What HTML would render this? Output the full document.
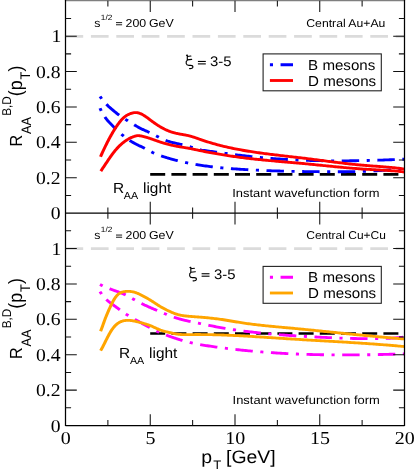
<!DOCTYPE html>
<html><head><meta charset="utf-8"><title>R_AA B,D mesons</title>
<style>html,body{margin:0;padding:0;background:#fff;}svg{display:block;will-change:transform;}text{text-rendering:geometricPrecision;}</style>
</head><body>
<svg width="415" height="471" viewBox="0 0 415 471">
<defs><filter id="soft" x="-5%" y="-5%" width="110%" height="110%"><feGaussianBlur stdDeviation="0.32"/></filter></defs>
<rect x="0" y="0" width="415" height="471" fill="#ffffff"/>
<line x1="65.5" y1="36.35" x2="404.5" y2="36.35" stroke="#dbdbdb" stroke-width="2.85" stroke-dasharray="17.7 7.7"/>
<line x1="65.5" y1="248.60" x2="404.5" y2="248.60" stroke="#dbdbdb" stroke-width="2.85" stroke-dasharray="17.7 7.7"/>
<line x1="150.2" y1="174.3" x2="404.5" y2="174.3" stroke="#000" stroke-width="2.65" stroke-dasharray="15.0 6.2"/>
<line x1="150.2" y1="333.5" x2="404.5" y2="333.5" stroke="#000" stroke-width="2.65" stroke-dasharray="15.0 6.2"/>
<g fill="none" stroke-width="2.85" stroke-linejoin="round" transform="scale(1.08 1)">
<path d="M92.59 96.40 L93.04 97.11 L93.48 97.80 L93.92 98.47 L94.36 99.12 L94.81 99.74 L95.25 100.35 L95.69 100.94 L96.14 101.51 L96.58 102.06 L97.02 102.60 L97.47 103.12 L97.91 103.63 L98.35 104.12 L98.79 104.61 L99.24 105.08 L99.68 105.54 L100.12 105.99 L100.57 106.43 L101.01 106.87 L101.45 107.29 L101.90 107.71 L102.34 108.13 L102.78 108.54 L103.23 108.95 L103.67 109.35 L104.11 109.76 L104.55 110.16 L105.00 110.56 L105.44 110.97 L105.88 111.37 L106.33 111.76 L106.77 112.16 L107.21 112.55 L107.66 112.94 L108.10 113.33 L108.54 113.71 L108.98 114.08 L109.43 114.45 L109.87 114.81 L110.31 115.16 L110.76 115.51 L111.20 115.85 L111.64 116.19 L112.09 116.52 L112.53 116.84 L112.97 117.16 L113.41 117.48 L113.86 117.79 L114.30 118.10 L114.74 118.40 L115.19 118.70 L115.63 119.01 L116.07 119.31 L116.52 119.61 L116.96 119.91 L117.40 120.20 L117.85 120.50 L118.29 120.80 L118.73 121.10 L119.17 121.41 L119.62 121.71 L120.06 122.01 L120.50 122.31 L120.95 122.60 L121.39 122.90 L121.83 123.20 L122.28 123.50 L122.72 123.79 L123.16 124.08 L123.60 124.38 L124.05 124.66 L124.49 124.95 L124.93 125.24 L125.38 125.52 L125.82 125.80 L126.26 126.08 L126.71 126.36 L127.15 126.63 L127.59 126.90 L128.03 127.16 L128.48 127.43 L128.92 127.69 L129.36 127.94 L129.81 128.19 L130.25 128.44 L130.69 128.68 L131.14 128.92 L131.58 129.15 L132.02 129.38 L132.47 129.61 L132.91 129.83 L133.35 130.05 L133.79 130.26 L134.24 130.48 L134.68 130.69 L135.12 130.90 L135.57 131.11 L136.01 131.33 L136.45 131.54 L136.90 131.75 L137.34 131.97 L137.78 132.19 L138.22 132.41 L138.67 132.63 L139.11 132.86 L139.55 133.10 L140.00 133.33 L140.44 133.57 L140.88 133.81 L141.33 134.05 L141.77 134.29 L142.21 134.54 L142.65 134.79 L143.10 135.03 L143.54 135.28 L143.98 135.53 L144.43 135.78 L144.87 136.03 L145.31 136.28 L145.76 136.52 L146.20 136.77 L146.64 137.01 L147.08 137.26 L147.53 137.50 L147.97 137.73 L148.41 137.97 L148.86 138.20 L149.30 138.43 L149.74 138.66 L150.19 138.88 L150.63 139.10 L151.07 139.31 L151.52 139.52 L151.96 139.73 L152.40 139.93 L152.84 140.12 L153.29 140.31 L153.73 140.49 L154.17 140.67 L154.62 140.84 L155.06 141.00 L155.50 141.16 L155.95 141.31 L156.39 141.46 L156.83 141.60 L157.27 141.74 L157.72 141.88 L158.16 142.01 L158.60 142.14 L159.05 142.26 L159.49 142.39 L159.93 142.51 L160.38 142.63 L160.82 142.74 L161.26 142.86 L161.70 142.97 L162.15 143.08 L162.59 143.19 L163.03 143.30 L163.48 143.41 L163.92 143.52 L164.36 143.63 L164.81 143.74 L165.25 143.84 L165.69 143.95 L166.14 144.06 L166.58 144.17 L167.02 144.27 L167.46 144.38 L167.91 144.49 L168.35 144.60 L168.79 144.71 L169.24 144.82 L169.68 144.94 L170.12 145.05 L170.57 145.17 L171.01 145.29 L171.45 145.40 L171.89 145.53 L172.34 145.65 L172.78 145.77 L173.22 145.90 L173.67 146.03 L174.11 146.16 L174.55 146.29 L175.00 146.43 L175.44 146.56 L175.88 146.70 L176.32 146.85 L176.77 146.99 L177.21 147.14 L177.65 147.29 L178.10 147.45 L178.54 147.60 L178.98 147.76 L179.43 147.91 L179.87 148.07 L180.31 148.22 L180.75 148.37 L181.20 148.53 L181.64 148.68 L182.08 148.82 L182.53 148.97 L182.97 149.11 L183.41 149.24 L183.86 149.37 L184.30 149.50 L184.74 149.61 L185.19 149.73 L186.55 150.04 L187.91 150.30 L189.27 150.53 L190.63 150.74 L192.00 150.93 L193.36 151.12 L194.72 151.32 L196.08 151.51 L197.45 151.71 L198.81 151.90 L200.17 152.10 L201.53 152.30 L202.89 152.50 L204.26 152.70 L205.62 152.90 L206.98 153.10 L208.34 153.30 L209.71 153.50 L211.07 153.70 L212.43 153.90 L213.79 154.10 L215.15 154.29 L216.52 154.49 L217.88 154.68 L219.24 154.87 L220.60 155.05 L221.97 155.24 L223.33 155.42 L224.69 155.60 L226.05 155.78 L227.41 155.95 L228.78 156.12 L230.14 156.28 L231.50 156.45 L232.86 156.60 L234.23 156.76 L235.59 156.91 L236.95 157.06 L238.31 157.21 L239.67 157.35 L241.04 157.49 L242.40 157.62 L243.76 157.76 L245.12 157.89 L246.49 158.01 L247.85 158.14 L249.21 158.26 L250.57 158.37 L251.94 158.49 L253.30 158.60 L254.66 158.71 L256.02 158.81 L257.38 158.92 L258.75 159.02 L260.11 159.11 L261.47 159.21 L262.83 159.30 L264.20 159.38 L265.56 159.47 L266.92 159.55 L268.28 159.63 L269.64 159.71 L271.01 159.78 L272.37 159.85 L273.73 159.92 L275.09 159.99 L276.46 160.05 L277.82 160.11 L279.18 160.17 L280.54 160.23 L281.90 160.28 L283.27 160.33 L284.63 160.38 L285.99 160.42 L287.35 160.47 L288.72 160.51 L290.08 160.55 L291.44 160.58 L292.80 160.62 L294.16 160.65 L295.53 160.68 L296.89 160.70 L298.25 160.73 L299.61 160.75 L300.98 160.77 L302.34 160.79 L303.70 160.80 L305.06 160.82 L306.42 160.83 L307.79 160.84 L309.15 160.84 L310.51 160.85 L311.87 160.85 L313.24 160.85 L314.60 160.85 L315.96 160.85 L317.32 160.84 L318.69 160.84 L320.05 160.83 L321.41 160.82 L322.77 160.81 L324.13 160.79 L325.50 160.77 L326.86 160.76 L328.22 160.74 L329.58 160.72 L330.95 160.69 L332.31 160.67 L333.67 160.64 L335.03 160.61 L336.39 160.58 L337.76 160.55 L339.12 160.52 L340.48 160.48 L341.84 160.45 L343.21 160.41 L344.57 160.37 L345.93 160.33 L347.29 160.29 L348.65 160.24 L350.02 160.20 L351.38 160.15 L352.74 160.10 L354.10 160.05 L355.47 160.00 L356.83 159.95 L358.19 159.90 L359.55 159.85 L360.91 159.79 L362.28 159.73 L363.64 159.68 L365.00 159.62 L366.36 159.56 L367.73 159.49 L369.09 159.43 L370.45 159.37 L371.81 159.30 L373.17 159.24 L374.54 159.17" stroke="#0000ff" stroke-dasharray="2.87 7.0 16.15 7.0"/>
<path d="M92.59 108.19 L93.04 109.25 L93.48 110.25 L93.92 111.21 L94.36 112.13 L94.81 113.01 L95.25 113.84 L95.69 114.64 L96.14 115.41 L96.58 116.14 L97.02 116.84 L97.47 117.51 L97.91 118.16 L98.35 118.78 L98.79 119.38 L99.24 119.96 L99.68 120.53 L100.12 121.07 L100.57 121.61 L101.01 122.13 L101.45 122.65 L101.90 123.15 L102.34 123.66 L102.78 124.16 L103.23 124.66 L103.67 125.15 L104.11 125.65 L104.55 126.14 L105.00 126.62 L105.44 127.11 L105.88 127.59 L106.33 128.06 L106.77 128.54 L107.21 129.01 L107.66 129.47 L108.10 129.93 L108.54 130.39 L108.98 130.84 L109.43 131.29 L109.87 131.74 L110.31 132.17 L110.76 132.61 L111.20 133.04 L111.64 133.46 L112.09 133.88 L112.53 134.29 L112.97 134.70 L113.41 135.10 L113.86 135.50 L114.30 135.89 L114.74 136.27 L115.19 136.65 L115.63 137.02 L116.07 137.38 L116.52 137.74 L116.96 138.10 L117.40 138.45 L117.85 138.79 L118.29 139.13 L118.73 139.46 L119.17 139.79 L119.62 140.11 L120.06 140.42 L120.50 140.73 L120.95 141.04 L121.39 141.34 L121.83 141.63 L122.28 141.92 L122.72 142.21 L123.16 142.49 L123.60 142.76 L124.05 143.03 L124.49 143.30 L124.93 143.56 L125.38 143.81 L125.82 144.07 L126.26 144.31 L126.71 144.56 L127.15 144.79 L127.59 145.03 L128.03 145.26 L128.48 145.48 L128.92 145.70 L129.36 145.93 L129.81 146.14 L130.25 146.36 L130.69 146.58 L131.14 146.80 L131.58 147.02 L132.02 147.24 L132.47 147.46 L132.91 147.69 L133.35 147.92 L133.79 148.15 L134.24 148.39 L134.68 148.64 L135.12 148.88 L135.57 149.14 L136.01 149.39 L136.45 149.65 L136.90 149.91 L137.34 150.17 L137.78 150.44 L138.22 150.70 L138.67 150.96 L139.11 151.22 L139.55 151.48 L140.00 151.74 L140.44 151.99 L140.88 152.23 L141.33 152.48 L141.77 152.71 L142.21 152.94 L142.65 153.17 L143.10 153.38 L143.54 153.59 L143.98 153.80 L144.43 154.00 L144.87 154.19 L145.31 154.38 L145.76 154.57 L146.20 154.75 L146.64 154.93 L147.08 155.10 L147.53 155.27 L147.97 155.44 L148.41 155.61 L148.86 155.77 L149.30 155.93 L149.74 156.09 L150.19 156.25 L150.63 156.41 L151.07 156.56 L151.52 156.72 L151.96 156.87 L152.40 157.02 L152.84 157.17 L153.29 157.32 L153.73 157.47 L154.17 157.62 L154.62 157.76 L155.06 157.91 L155.50 158.05 L155.95 158.19 L156.39 158.33 L156.83 158.47 L157.27 158.61 L157.72 158.75 L158.16 158.88 L158.60 159.02 L159.05 159.15 L159.49 159.28 L159.93 159.41 L160.38 159.54 L160.82 159.67 L161.26 159.80 L161.70 159.93 L162.15 160.05 L162.59 160.18 L163.03 160.30 L163.48 160.42 L163.92 160.54 L164.36 160.66 L164.81 160.78 L165.25 160.90 L165.69 161.01 L166.14 161.13 L166.58 161.24 L167.02 161.36 L167.46 161.47 L167.91 161.58 L168.35 161.69 L168.79 161.80 L169.24 161.91 L169.68 162.01 L170.12 162.12 L170.57 162.22 L171.01 162.33 L171.45 162.43 L171.89 162.53 L172.34 162.63 L172.78 162.73 L173.22 162.83 L173.67 162.93 L174.11 163.03 L174.55 163.12 L175.00 163.22 L175.44 163.31 L175.88 163.40 L176.32 163.50 L176.77 163.59 L177.21 163.68 L177.65 163.77 L178.10 163.85 L178.54 163.94 L178.98 164.03 L179.43 164.11 L179.87 164.20 L180.31 164.28 L180.75 164.37 L181.20 164.45 L181.64 164.53 L182.08 164.61 L182.53 164.69 L182.97 164.77 L183.41 164.85 L183.86 164.93 L184.30 165.00 L184.74 165.08 L185.19 165.15 L186.55 165.38 L187.91 165.60 L189.27 165.81 L190.63 166.01 L192.00 166.21 L193.36 166.40 L194.72 166.58 L196.08 166.76 L197.45 166.93 L198.81 167.10 L200.17 167.26 L201.53 167.41 L202.89 167.56 L204.26 167.71 L205.62 167.85 L206.98 167.98 L208.34 168.11 L209.71 168.24 L211.07 168.36 L212.43 168.48 L213.79 168.60 L215.15 168.71 L216.52 168.82 L217.88 168.92 L219.24 169.02 L220.60 169.12 L221.97 169.22 L223.33 169.31 L224.69 169.41 L226.05 169.50 L227.41 169.58 L228.78 169.67 L230.14 169.75 L231.50 169.83 L232.86 169.91 L234.23 169.99 L235.59 170.06 L236.95 170.13 L238.31 170.20 L239.67 170.27 L241.04 170.34 L242.40 170.40 L243.76 170.47 L245.12 170.53 L246.49 170.59 L247.85 170.64 L249.21 170.70 L250.57 170.75 L251.94 170.80 L253.30 170.85 L254.66 170.90 L256.02 170.95 L257.38 170.99 L258.75 171.04 L260.11 171.08 L261.47 171.12 L262.83 171.16 L264.20 171.19 L265.56 171.23 L266.92 171.27 L268.28 171.30 L269.64 171.33 L271.01 171.36 L272.37 171.39 L273.73 171.42 L275.09 171.44 L276.46 171.47 L277.82 171.49 L279.18 171.52 L280.54 171.54 L281.90 171.56 L283.27 171.58 L284.63 171.60 L285.99 171.62 L287.35 171.63 L288.72 171.65 L290.08 171.66 L291.44 171.68 L292.80 171.69 L294.16 171.70 L295.53 171.72 L296.89 171.73 L298.25 171.74 L299.61 171.75 L300.98 171.75 L302.34 171.76 L303.70 171.77 L305.06 171.77 L306.42 171.77 L307.79 171.78 L309.15 171.78 L310.51 171.78 L311.87 171.77 L313.24 171.77 L314.60 171.76 L315.96 171.75 L317.32 171.74 L318.69 171.73 L320.05 171.72 L321.41 171.70 L322.77 171.68 L324.13 171.66 L325.50 171.63 L326.86 171.61 L328.22 171.58 L329.58 171.55 L330.95 171.51 L332.31 171.47 L333.67 171.43 L335.03 171.39 L336.39 171.34 L337.76 171.29 L339.12 171.24 L340.48 171.18 L341.84 171.12 L343.21 171.05 L344.57 170.99 L345.93 170.91 L347.29 170.84 L348.65 170.76 L350.02 170.68 L351.38 170.59 L352.74 170.50 L354.10 170.40 L355.47 170.30 L356.83 170.20 L358.19 170.09 L359.55 169.97 L360.91 169.85 L362.28 169.73 L363.64 169.60 L365.00 169.47 L366.36 169.33 L367.73 169.19 L369.09 169.04 L370.45 168.89 L371.81 168.73 L373.17 168.56 L374.54 168.39" stroke="#0000ff" stroke-dasharray="2.87 7.0 16.15 7.0"/>
<path d="M93.06 156.80 L93.50 155.72 L93.94 154.65 L94.38 153.59 L94.82 152.54 L95.26 151.50 L95.70 150.48 L96.14 149.46 L96.58 148.46 L97.02 147.46 L97.46 146.48 L97.90 145.50 L98.35 144.54 L98.79 143.59 L99.23 142.65 L99.67 141.72 L100.11 140.80 L100.55 139.89 L100.99 138.99 L101.43 138.10 L101.87 137.23 L102.31 136.36 L102.75 135.51 L103.19 134.66 L103.64 133.83 L104.08 133.00 L104.52 132.19 L104.96 131.39 L105.40 130.60 L105.84 129.82 L106.28 129.06 L106.72 128.30 L107.16 127.56 L107.60 126.84 L108.04 126.13 L108.48 125.43 L108.92 124.75 L109.37 124.09 L109.81 123.44 L110.25 122.81 L110.69 122.20 L111.13 121.60 L111.57 121.03 L112.01 120.47 L112.45 119.93 L112.89 119.41 L113.33 118.91 L113.77 118.43 L114.21 117.98 L114.66 117.54 L115.10 117.13 L115.54 116.74 L115.98 116.38 L116.42 116.03 L116.86 115.71 L117.30 115.41 L117.74 115.13 L118.18 114.87 L118.62 114.62 L119.06 114.39 L119.50 114.18 L119.95 113.98 L120.39 113.79 L120.83 113.61 L121.27 113.44 L121.71 113.29 L122.15 113.14 L122.59 113.01 L123.03 112.89 L123.47 112.79 L123.91 112.71 L124.35 112.64 L124.79 112.59 L125.23 112.56 L125.68 112.56 L126.12 112.57 L126.56 112.61 L127.00 112.68 L127.44 112.76 L127.88 112.86 L128.32 112.99 L128.76 113.13 L129.20 113.29 L129.64 113.47 L130.08 113.66 L130.52 113.87 L130.97 114.09 L131.41 114.33 L131.85 114.58 L132.29 114.85 L132.73 115.12 L133.17 115.41 L133.61 115.70 L134.05 116.01 L134.49 116.32 L134.93 116.65 L135.37 116.97 L135.81 117.31 L136.26 117.65 L136.70 117.99 L137.14 118.34 L137.58 118.70 L138.02 119.05 L138.46 119.41 L138.90 119.76 L139.34 120.12 L139.78 120.48 L140.22 120.83 L140.66 121.19 L141.10 121.54 L141.54 121.88 L141.99 122.23 L142.43 122.57 L142.87 122.91 L143.31 123.25 L143.75 123.58 L144.19 123.90 L144.63 124.23 L145.07 124.55 L145.51 124.86 L145.95 125.18 L146.39 125.48 L146.83 125.78 L147.28 126.08 L147.72 126.37 L148.16 126.66 L148.60 126.94 L149.04 127.22 L149.48 127.49 L149.92 127.76 L150.36 128.02 L150.80 128.28 L151.24 128.53 L151.68 128.78 L152.12 129.02 L152.57 129.25 L153.01 129.48 L153.45 129.71 L153.89 129.93 L154.33 130.14 L154.77 130.35 L155.21 130.56 L155.65 130.76 L156.09 130.95 L156.53 131.14 L156.97 131.32 L157.41 131.50 L157.85 131.67 L158.30 131.83 L158.74 132.00 L159.18 132.15 L159.62 132.30 L160.06 132.44 L160.50 132.58 L160.94 132.71 L161.38 132.84 L161.82 132.96 L162.26 133.08 L162.70 133.20 L163.14 133.30 L163.59 133.41 L164.03 133.51 L164.47 133.61 L164.91 133.71 L165.35 133.80 L165.79 133.89 L166.23 133.98 L166.67 134.06 L167.11 134.15 L167.55 134.24 L167.99 134.32 L168.43 134.40 L168.88 134.49 L169.32 134.57 L169.76 134.65 L170.20 134.74 L170.64 134.82 L171.08 134.91 L171.52 135.00 L171.96 135.09 L172.40 135.19 L172.84 135.28 L173.28 135.38 L173.72 135.48 L174.16 135.59 L174.61 135.70 L175.05 135.81 L175.49 135.93 L175.93 136.06 L176.37 136.18 L176.81 136.32 L177.25 136.46 L177.69 136.60 L178.13 136.74 L178.57 136.89 L179.01 137.05 L179.45 137.20 L179.90 137.36 L180.34 137.52 L180.78 137.68 L181.22 137.85 L181.66 138.02 L182.10 138.18 L182.54 138.35 L182.98 138.52 L183.42 138.69 L183.86 138.86 L184.30 139.03 L184.74 139.20 L185.19 139.36 L186.55 139.87 L187.91 140.37 L189.27 140.86 L190.63 141.34 L192.00 141.80 L193.36 142.26 L194.72 142.70 L196.08 143.14 L197.45 143.56 L198.81 143.97 L200.17 144.38 L201.53 144.77 L202.89 145.16 L204.26 145.54 L205.62 145.90 L206.98 146.26 L208.34 146.61 L209.71 146.96 L211.07 147.29 L212.43 147.62 L213.79 147.94 L215.15 148.25 L216.52 148.55 L217.88 148.85 L219.24 149.14 L220.60 149.42 L221.97 149.70 L223.33 149.97 L224.69 150.23 L226.05 150.49 L227.41 150.74 L228.78 150.98 L230.14 151.23 L231.50 151.46 L232.86 151.69 L234.23 151.92 L235.59 152.14 L236.95 152.36 L238.31 152.57 L239.67 152.78 L241.04 152.98 L242.40 153.18 L243.76 153.38 L245.12 153.57 L246.49 153.76 L247.85 153.95 L249.21 154.14 L250.57 154.32 L251.94 154.50 L253.30 154.68 L254.66 154.85 L256.02 155.03 L257.38 155.20 L258.75 155.37 L260.11 155.54 L261.47 155.71 L262.83 155.88 L264.20 156.05 L265.56 156.22 L266.92 156.38 L268.28 156.55 L269.64 156.72 L271.01 156.89 L272.37 157.06 L273.73 157.23 L275.09 157.40 L276.46 157.57 L277.82 157.74 L279.18 157.92 L280.54 158.09 L281.90 158.27 L283.27 158.45 L284.63 158.63 L285.99 158.82 L287.35 159.00 L288.72 159.19 L290.08 159.38 L291.44 159.57 L292.80 159.76 L294.16 159.95 L295.53 160.14 L296.89 160.33 L298.25 160.52 L299.61 160.71 L300.98 160.91 L302.34 161.10 L303.70 161.29 L305.06 161.48 L306.42 161.67 L307.79 161.86 L309.15 162.05 L310.51 162.23 L311.87 162.42 L313.24 162.60 L314.60 162.78 L315.96 162.96 L317.32 163.14 L318.69 163.31 L320.05 163.48 L321.41 163.65 L322.77 163.82 L324.13 163.98 L325.50 164.14 L326.86 164.30 L328.22 164.45 L329.58 164.60 L330.95 164.75 L332.31 164.89 L333.67 165.03 L335.03 165.16 L336.39 165.29 L337.76 165.41 L339.12 165.53 L340.48 165.64 L341.84 165.75 L343.21 165.86 L344.57 165.97 L345.93 166.07 L347.29 166.17 L348.65 166.28 L350.02 166.38 L351.38 166.48 L352.74 166.59 L354.10 166.70 L355.47 166.81 L356.83 166.93 L358.19 167.05 L359.55 167.17 L360.91 167.31 L362.28 167.44 L363.64 167.59 L365.00 167.74 L366.36 167.90 L367.73 168.07 L369.09 168.25 L370.45 168.45 L371.81 168.65 L373.17 168.86 L374.54 169.09" stroke="#ff0000"/>
<path d="M93.33 171.11 L93.77 170.42 L94.21 169.72 L94.65 169.02 L95.09 168.32 L95.53 167.61 L95.97 166.90 L96.41 166.19 L96.85 165.48 L97.29 164.77 L97.73 164.05 L98.17 163.34 L98.61 162.63 L99.05 161.92 L99.49 161.21 L99.93 160.51 L100.37 159.81 L100.80 159.11 L101.24 158.42 L101.68 157.73 L102.12 157.05 L102.56 156.38 L103.00 155.72 L103.44 155.06 L103.88 154.41 L104.32 153.77 L104.76 153.14 L105.20 152.52 L105.64 151.91 L106.08 151.31 L106.52 150.73 L106.96 150.15 L107.40 149.59 L107.84 149.05 L108.28 148.52 L108.72 147.99 L109.15 147.49 L109.59 146.99 L110.03 146.51 L110.47 146.03 L110.91 145.57 L111.35 145.13 L111.79 144.69 L112.23 144.26 L112.67 143.85 L113.11 143.44 L113.55 143.05 L113.99 142.66 L114.43 142.29 L114.87 141.93 L115.31 141.57 L115.75 141.23 L116.19 140.90 L116.63 140.57 L117.07 140.25 L117.50 139.95 L117.94 139.65 L118.38 139.37 L118.82 139.09 L119.26 138.82 L119.70 138.56 L120.14 138.31 L120.58 138.07 L121.02 137.84 L121.46 137.62 L121.90 137.41 L122.34 137.20 L122.78 137.01 L123.22 136.82 L123.66 136.65 L124.10 136.48 L124.54 136.33 L124.98 136.18 L125.42 136.05 L125.86 135.93 L126.29 135.83 L126.73 135.75 L127.17 135.70 L127.61 135.66 L128.05 135.65 L128.49 135.67 L128.93 135.71 L129.37 135.76 L129.81 135.83 L130.25 135.91 L130.69 136.00 L131.13 136.10 L131.57 136.19 L132.01 136.30 L132.45 136.41 L132.89 136.52 L133.33 136.64 L133.77 136.77 L134.21 136.89 L134.64 137.03 L135.08 137.16 L135.52 137.30 L135.96 137.44 L136.40 137.59 L136.84 137.74 L137.28 137.89 L137.72 138.04 L138.16 138.20 L138.60 138.36 L139.04 138.52 L139.48 138.68 L139.92 138.84 L140.36 139.01 L140.80 139.17 L141.24 139.34 L141.68 139.51 L142.12 139.68 L142.56 139.85 L142.99 140.02 L143.43 140.18 L143.87 140.35 L144.31 140.52 L144.75 140.69 L145.19 140.86 L145.63 141.02 L146.07 141.19 L146.51 141.35 L146.95 141.51 L147.39 141.67 L147.83 141.83 L148.27 141.99 L148.71 142.14 L149.15 142.30 L149.59 142.45 L150.03 142.60 L150.47 142.74 L150.91 142.89 L151.35 143.03 L151.78 143.17 L152.22 143.31 L152.66 143.45 L153.10 143.58 L153.54 143.72 L153.98 143.85 L154.42 143.98 L154.86 144.10 L155.30 144.23 L155.74 144.35 L156.18 144.48 L156.62 144.59 L157.06 144.71 L157.50 144.83 L157.94 144.94 L158.38 145.05 L158.82 145.16 L159.26 145.27 L159.70 145.37 L160.13 145.48 L160.57 145.58 L161.01 145.68 L161.45 145.77 L161.89 145.87 L162.33 145.96 L162.77 146.05 L163.21 146.14 L163.65 146.23 L164.09 146.32 L164.53 146.41 L164.97 146.49 L165.41 146.58 L165.85 146.66 L166.29 146.74 L166.73 146.82 L167.17 146.90 L167.61 146.98 L168.05 147.06 L168.48 147.14 L168.92 147.22 L169.36 147.30 L169.80 147.38 L170.24 147.46 L170.68 147.54 L171.12 147.62 L171.56 147.70 L172.00 147.78 L172.44 147.86 L172.88 147.94 L173.32 148.02 L173.76 148.10 L174.20 148.19 L174.64 148.27 L175.08 148.36 L175.52 148.45 L175.96 148.53 L176.40 148.62 L176.84 148.72 L177.27 148.81 L177.71 148.90 L178.15 149.00 L178.59 149.09 L179.03 149.19 L179.47 149.29 L179.91 149.39 L180.35 149.48 L180.79 149.58 L181.23 149.68 L181.67 149.78 L182.11 149.88 L182.55 149.98 L182.99 150.09 L183.43 150.19 L183.87 150.29 L184.31 150.39 L184.75 150.49 L185.19 150.59 L186.55 150.89 L187.91 151.19 L189.27 151.49 L190.63 151.78 L192.00 152.07 L193.36 152.35 L194.72 152.63 L196.08 152.90 L197.45 153.17 L198.81 153.43 L200.17 153.69 L201.53 153.95 L202.89 154.20 L204.26 154.45 L205.62 154.69 L206.98 154.93 L208.34 155.16 L209.71 155.39 L211.07 155.62 L212.43 155.84 L213.79 156.06 L215.15 156.28 L216.52 156.49 L217.88 156.70 L219.24 156.90 L220.60 157.10 L221.97 157.30 L223.33 157.49 L224.69 157.68 L226.05 157.87 L227.41 158.05 L228.78 158.23 L230.14 158.40 L231.50 158.57 L232.86 158.74 L234.23 158.91 L235.59 159.07 L236.95 159.23 L238.31 159.39 L239.67 159.54 L241.04 159.69 L242.40 159.84 L243.76 159.99 L245.12 160.13 L246.49 160.27 L247.85 160.41 L249.21 160.55 L250.57 160.69 L251.94 160.82 L253.30 160.95 L254.66 161.08 L256.02 161.21 L257.38 161.34 L258.75 161.47 L260.11 161.60 L261.47 161.73 L262.83 161.86 L264.20 161.98 L265.56 162.11 L266.92 162.24 L268.28 162.36 L269.64 162.49 L271.01 162.62 L272.37 162.74 L273.73 162.87 L275.09 163.00 L276.46 163.13 L277.82 163.27 L279.18 163.40 L280.54 163.53 L281.90 163.67 L283.27 163.81 L284.63 163.95 L285.99 164.09 L287.35 164.23 L288.72 164.37 L290.08 164.52 L291.44 164.66 L292.80 164.81 L294.16 164.96 L295.53 165.10 L296.89 165.25 L298.25 165.40 L299.61 165.55 L300.98 165.70 L302.34 165.84 L303.70 165.99 L305.06 166.14 L306.42 166.29 L307.79 166.43 L309.15 166.58 L310.51 166.72 L311.87 166.86 L313.24 167.00 L314.60 167.14 L315.96 167.28 L317.32 167.42 L318.69 167.55 L320.05 167.68 L321.41 167.81 L322.77 167.94 L324.13 168.07 L325.50 168.19 L326.86 168.31 L328.22 168.43 L329.58 168.54 L330.95 168.65 L332.31 168.76 L333.67 168.87 L335.03 168.97 L336.39 169.07 L337.76 169.16 L339.12 169.25 L340.48 169.34 L341.84 169.42 L343.21 169.50 L344.57 169.58 L345.93 169.66 L347.29 169.74 L348.65 169.82 L350.02 169.90 L351.38 169.98 L352.74 170.06 L354.10 170.14 L355.47 170.22 L356.83 170.31 L358.19 170.40 L359.55 170.50 L360.91 170.60 L362.28 170.71 L363.64 170.82 L365.00 170.94 L366.36 171.06 L367.73 171.19 L369.09 171.33 L370.45 171.48 L371.81 171.64 L373.17 171.81 L374.54 171.98" stroke="#ff0000"/>
<path d="M92.59 284.42 L93.04 284.67 L93.48 284.92 L93.92 285.17 L94.36 285.41 L94.81 285.65 L95.25 285.88 L95.69 286.11 L96.14 286.33 L96.58 286.55 L97.02 286.76 L97.47 286.97 L97.91 287.18 L98.35 287.38 L98.79 287.58 L99.24 287.78 L99.68 287.98 L100.12 288.17 L100.57 288.36 L101.01 288.54 L101.45 288.73 L101.90 288.91 L102.34 289.09 L102.78 289.27 L103.23 289.45 L103.67 289.62 L104.11 289.80 L104.55 289.97 L105.00 290.14 L105.44 290.31 L105.88 290.49 L106.33 290.66 L106.77 290.83 L107.21 291.00 L107.66 291.17 L108.10 291.35 L108.54 291.52 L108.98 291.69 L109.43 291.87 L109.87 292.04 L110.31 292.22 L110.76 292.40 L111.20 292.58 L111.64 292.77 L112.09 292.95 L112.53 293.14 L112.97 293.34 L113.41 293.53 L113.86 293.73 L114.30 293.94 L114.74 294.15 L115.19 294.36 L115.63 294.58 L116.07 294.81 L116.52 295.04 L116.96 295.28 L117.40 295.52 L117.85 295.76 L118.29 296.01 L118.73 296.27 L119.17 296.52 L119.62 296.78 L120.06 297.05 L120.50 297.31 L120.95 297.58 L121.39 297.84 L121.83 298.11 L122.28 298.38 L122.72 298.65 L123.16 298.91 L123.60 299.18 L124.05 299.45 L124.49 299.71 L124.93 299.97 L125.38 300.24 L125.82 300.50 L126.26 300.75 L126.71 301.01 L127.15 301.27 L127.59 301.52 L128.03 301.77 L128.48 302.02 L128.92 302.27 L129.36 302.52 L129.81 302.77 L130.25 303.01 L130.69 303.26 L131.14 303.50 L131.58 303.74 L132.02 303.98 L132.47 304.21 L132.91 304.45 L133.35 304.68 L133.79 304.92 L134.24 305.15 L134.68 305.37 L135.12 305.60 L135.57 305.82 L136.01 306.05 L136.45 306.27 L136.90 306.49 L137.34 306.70 L137.78 306.92 L138.22 307.13 L138.67 307.34 L139.11 307.55 L139.55 307.76 L140.00 307.97 L140.44 308.17 L140.88 308.38 L141.33 308.58 L141.77 308.78 L142.21 308.98 L142.65 309.18 L143.10 309.38 L143.54 309.58 L143.98 309.78 L144.43 309.98 L144.87 310.18 L145.31 310.38 L145.76 310.58 L146.20 310.78 L146.64 310.98 L147.08 311.18 L147.53 311.39 L147.97 311.59 L148.41 311.79 L148.86 311.99 L149.30 312.20 L149.74 312.40 L150.19 312.60 L150.63 312.80 L151.07 313.00 L151.52 313.20 L151.96 313.40 L152.40 313.60 L152.84 313.80 L153.29 313.99 L153.73 314.19 L154.17 314.38 L154.62 314.58 L155.06 314.77 L155.50 314.96 L155.95 315.15 L156.39 315.34 L156.83 315.52 L157.27 315.71 L157.72 315.89 L158.16 316.07 L158.60 316.25 L159.05 316.42 L159.49 316.60 L159.93 316.77 L160.38 316.94 L160.82 317.10 L161.26 317.27 L161.70 317.43 L162.15 317.58 L162.59 317.74 L163.03 317.89 L163.48 318.04 L163.92 318.19 L164.36 318.33 L164.81 318.48 L165.25 318.62 L165.69 318.76 L166.14 318.89 L166.58 319.03 L167.02 319.16 L167.46 319.29 L167.91 319.42 L168.35 319.55 L168.79 319.67 L169.24 319.79 L169.68 319.91 L170.12 320.03 L170.57 320.15 L171.01 320.27 L171.45 320.38 L171.89 320.50 L172.34 320.61 L172.78 320.72 L173.22 320.83 L173.67 320.94 L174.11 321.04 L174.55 321.15 L175.00 321.26 L175.44 321.36 L175.88 321.46 L176.32 321.57 L176.77 321.67 L177.21 321.77 L177.65 321.87 L178.10 321.97 L178.54 322.07 L178.98 322.16 L179.43 322.26 L179.87 322.36 L180.31 322.46 L180.75 322.55 L181.20 322.65 L181.64 322.75 L182.08 322.84 L182.53 322.94 L182.97 323.04 L183.41 323.13 L183.86 323.23 L184.30 323.33 L184.74 323.42 L185.19 323.52 L186.55 323.82 L187.91 324.12 L189.27 324.42 L190.63 324.73 L192.00 325.03 L193.36 325.33 L194.72 325.63 L196.08 325.92 L197.45 326.21 L198.81 326.50 L200.17 326.78 L201.53 327.06 L202.89 327.33 L204.26 327.59 L205.62 327.85 L206.98 328.10 L208.34 328.35 L209.71 328.59 L211.07 328.83 L212.43 329.06 L213.79 329.29 L215.15 329.51 L216.52 329.73 L217.88 329.94 L219.24 330.15 L220.60 330.35 L221.97 330.55 L223.33 330.74 L224.69 330.94 L226.05 331.12 L227.41 331.31 L228.78 331.49 L230.14 331.66 L231.50 331.84 L232.86 332.01 L234.23 332.17 L235.59 332.34 L236.95 332.50 L238.31 332.66 L239.67 332.81 L241.04 332.96 L242.40 333.11 L243.76 333.26 L245.12 333.40 L246.49 333.54 L247.85 333.68 L249.21 333.82 L250.57 333.95 L251.94 334.08 L253.30 334.21 L254.66 334.33 L256.02 334.45 L257.38 334.58 L258.75 334.69 L260.11 334.81 L261.47 334.92 L262.83 335.03 L264.20 335.14 L265.56 335.25 L266.92 335.36 L268.28 335.46 L269.64 335.56 L271.01 335.66 L272.37 335.76 L273.73 335.85 L275.09 335.95 L276.46 336.04 L277.82 336.13 L279.18 336.22 L280.54 336.30 L281.90 336.39 L283.27 336.47 L284.63 336.55 L285.99 336.63 L287.35 336.71 L288.72 336.79 L290.08 336.86 L291.44 336.94 L292.80 337.01 L294.16 337.09 L295.53 337.16 L296.89 337.23 L298.25 337.30 L299.61 337.36 L300.98 337.43 L302.34 337.50 L303.70 337.56 L305.06 337.62 L306.42 337.69 L307.79 337.75 L309.15 337.81 L310.51 337.87 L311.87 337.93 L313.24 337.99 L314.60 338.05 L315.96 338.10 L317.32 338.16 L318.69 338.21 L320.05 338.26 L321.41 338.30 L322.77 338.35 L324.13 338.39 L325.50 338.44 L326.86 338.47 L328.22 338.51 L329.58 338.54 L330.95 338.57 L332.31 338.60 L333.67 338.62 L335.03 338.64 L336.39 338.66 L337.76 338.67 L339.12 338.68 L340.48 338.69 L341.84 338.69 L343.21 338.68 L344.57 338.68 L345.93 338.67 L347.29 338.65 L348.65 338.63 L350.02 338.60 L351.38 338.57 L352.74 338.54 L354.10 338.49 L355.47 338.45 L356.83 338.40 L358.19 338.34 L359.55 338.27 L360.91 338.21 L362.28 338.13 L363.64 338.05 L365.00 337.96 L366.36 337.87 L367.73 337.76 L369.09 337.66 L370.45 337.54 L371.81 337.42 L373.17 337.29 L374.54 337.15" stroke="#ff00ff" stroke-dasharray="2.87 7.0 16.15 7.0"/>
<path d="M92.59 291.62 L93.04 292.38 L93.48 293.11 L93.92 293.80 L94.36 294.47 L94.81 295.11 L95.25 295.72 L95.69 296.31 L96.14 296.87 L96.58 297.41 L97.02 297.93 L97.47 298.43 L97.91 298.91 L98.35 299.37 L98.79 299.82 L99.24 300.25 L99.68 300.67 L100.12 301.08 L100.57 301.48 L101.01 301.86 L101.45 302.24 L101.90 302.62 L102.34 302.98 L102.78 303.34 L103.23 303.70 L103.67 304.05 L104.11 304.40 L104.55 304.74 L105.00 305.09 L105.44 305.44 L105.88 305.79 L106.33 306.14 L106.77 306.49 L107.21 306.84 L107.66 307.19 L108.10 307.54 L108.54 307.89 L108.98 308.24 L109.43 308.59 L109.87 308.94 L110.31 309.29 L110.76 309.64 L111.20 309.98 L111.64 310.33 L112.09 310.67 L112.53 311.01 L112.97 311.36 L113.41 311.69 L113.86 312.03 L114.30 312.37 L114.74 312.70 L115.19 313.03 L115.63 313.35 L116.07 313.68 L116.52 314.00 L116.96 314.32 L117.40 314.63 L117.85 314.94 L118.29 315.25 L118.73 315.55 L119.17 315.85 L119.62 316.15 L120.06 316.44 L120.50 316.73 L120.95 317.02 L121.39 317.31 L121.83 317.59 L122.28 317.87 L122.72 318.15 L123.16 318.42 L123.60 318.69 L124.05 318.96 L124.49 319.23 L124.93 319.50 L125.38 319.77 L125.82 320.03 L126.26 320.29 L126.71 320.55 L127.15 320.82 L127.59 321.08 L128.03 321.33 L128.48 321.59 L128.92 321.85 L129.36 322.11 L129.81 322.37 L130.25 322.62 L130.69 322.88 L131.14 323.14 L131.58 323.40 L132.02 323.66 L132.47 323.92 L132.91 324.18 L133.35 324.44 L133.79 324.70 L134.24 324.96 L134.68 325.22 L135.12 325.48 L135.57 325.74 L136.01 326.01 L136.45 326.27 L136.90 326.53 L137.34 326.79 L137.78 327.05 L138.22 327.32 L138.67 327.58 L139.11 327.84 L139.55 328.10 L140.00 328.36 L140.44 328.62 L140.88 328.88 L141.33 329.13 L141.77 329.39 L142.21 329.64 L142.65 329.89 L143.10 330.14 L143.54 330.38 L143.98 330.62 L144.43 330.86 L144.87 331.10 L145.31 331.33 L145.76 331.56 L146.20 331.78 L146.64 332.00 L147.08 332.21 L147.53 332.42 L147.97 332.62 L148.41 332.82 L148.86 333.02 L149.30 333.21 L149.74 333.40 L150.19 333.59 L150.63 333.78 L151.07 333.96 L151.52 334.14 L151.96 334.32 L152.40 334.50 L152.84 334.67 L153.29 334.85 L153.73 335.02 L154.17 335.20 L154.62 335.37 L155.06 335.54 L155.50 335.71 L155.95 335.89 L156.39 336.06 L156.83 336.23 L157.27 336.39 L157.72 336.56 L158.16 336.73 L158.60 336.90 L159.05 337.06 L159.49 337.23 L159.93 337.39 L160.38 337.56 L160.82 337.72 L161.26 337.88 L161.70 338.04 L162.15 338.20 L162.59 338.36 L163.03 338.51 L163.48 338.67 L163.92 338.83 L164.36 338.98 L164.81 339.13 L165.25 339.28 L165.69 339.43 L166.14 339.58 L166.58 339.73 L167.02 339.88 L167.46 340.02 L167.91 340.17 L168.35 340.31 L168.79 340.45 L169.24 340.59 L169.68 340.73 L170.12 340.87 L170.57 341.00 L171.01 341.14 L171.45 341.27 L171.89 341.40 L172.34 341.53 L172.78 341.66 L173.22 341.79 L173.67 341.91 L174.11 342.04 L174.55 342.16 L175.00 342.28 L175.44 342.40 L175.88 342.51 L176.32 342.63 L176.77 342.74 L177.21 342.85 L177.65 342.96 L178.10 343.07 L178.54 343.18 L178.98 343.28 L179.43 343.38 L179.87 343.48 L180.31 343.58 L180.75 343.68 L181.20 343.78 L181.64 343.87 L182.08 343.97 L182.53 344.06 L182.97 344.15 L183.41 344.24 L183.86 344.33 L184.30 344.41 L184.74 344.50 L185.19 344.58 L186.55 344.84 L187.91 345.08 L189.27 345.32 L190.63 345.55 L192.00 345.77 L193.36 345.99 L194.72 346.21 L196.08 346.42 L197.45 346.63 L198.81 346.84 L200.17 347.04 L201.53 347.25 L202.89 347.44 L204.26 347.64 L205.62 347.83 L206.98 348.02 L208.34 348.21 L209.71 348.39 L211.07 348.57 L212.43 348.75 L213.79 348.92 L215.15 349.10 L216.52 349.26 L217.88 349.43 L219.24 349.59 L220.60 349.75 L221.97 349.91 L223.33 350.07 L224.69 350.22 L226.05 350.37 L227.41 350.51 L228.78 350.66 L230.14 350.80 L231.50 350.94 L232.86 351.07 L234.23 351.21 L235.59 351.34 L236.95 351.46 L238.31 351.59 L239.67 351.71 L241.04 351.83 L242.40 351.95 L243.76 352.06 L245.12 352.17 L246.49 352.28 L247.85 352.39 L249.21 352.49 L250.57 352.59 L251.94 352.69 L253.30 352.79 L254.66 352.89 L256.02 352.98 L257.38 353.07 L258.75 353.15 L260.11 353.24 L261.47 353.32 L262.83 353.40 L264.20 353.48 L265.56 353.56 L266.92 353.63 L268.28 353.70 L269.64 353.77 L271.01 353.84 L272.37 353.90 L273.73 353.97 L275.09 354.03 L276.46 354.08 L277.82 354.14 L279.18 354.19 L280.54 354.25 L281.90 354.30 L283.27 354.34 L284.63 354.39 L285.99 354.43 L287.35 354.48 L288.72 354.52 L290.08 354.55 L291.44 354.59 L292.80 354.62 L294.16 354.66 L295.53 354.69 L296.89 354.71 L298.25 354.74 L299.61 354.77 L300.98 354.79 L302.34 354.81 L303.70 354.83 L305.06 354.85 L306.42 354.86 L307.79 354.88 L309.15 354.89 L310.51 354.90 L311.87 354.91 L313.24 354.92 L314.60 354.92 L315.96 354.93 L317.32 354.93 L318.69 354.93 L320.05 354.93 L321.41 354.93 L322.77 354.93 L324.13 354.92 L325.50 354.92 L326.86 354.91 L328.22 354.90 L329.58 354.89 L330.95 354.88 L332.31 354.86 L333.67 354.85 L335.03 354.83 L336.39 354.81 L337.76 354.79 L339.12 354.77 L340.48 354.75 L341.84 354.73 L343.21 354.71 L344.57 354.68 L345.93 354.65 L347.29 354.63 L348.65 354.60 L350.02 354.57 L351.38 354.54 L352.74 354.50 L354.10 354.47 L355.47 354.44 L356.83 354.40 L358.19 354.36 L359.55 354.33 L360.91 354.29 L362.28 354.25 L363.64 354.21 L365.00 354.17 L366.36 354.12 L367.73 354.08 L369.09 354.04 L370.45 353.99 L371.81 353.95 L373.17 353.90 L374.54 353.85" stroke="#ff00ff" stroke-dasharray="2.87 7.0 16.15 7.0"/>
<path d="M93.15 331.21 L93.59 330.01 L94.03 328.77 L94.47 327.49 L94.91 326.18 L95.35 324.85 L95.79 323.52 L96.23 322.19 L96.67 320.88 L97.11 319.59 L97.55 318.33 L97.99 317.12 L98.43 315.94 L98.87 314.79 L99.31 313.67 L99.75 312.56 L100.19 311.46 L100.63 310.37 L101.07 309.29 L101.52 308.24 L101.96 307.20 L102.40 306.18 L102.84 305.18 L103.28 304.21 L103.72 303.26 L104.16 302.34 L104.60 301.45 L105.04 300.60 L105.48 299.78 L105.92 299.00 L106.36 298.25 L106.80 297.55 L107.24 296.88 L107.68 296.27 L108.12 295.70 L108.56 295.18 L109.00 294.70 L109.44 294.28 L109.88 293.90 L110.32 293.57 L110.76 293.27 L111.20 293.00 L111.64 292.76 L112.08 292.56 L112.52 292.37 L112.96 292.21 L113.41 292.06 L113.85 291.93 L114.29 291.81 L114.73 291.70 L115.17 291.61 L115.61 291.54 L116.05 291.47 L116.49 291.42 L116.93 291.38 L117.37 291.35 L117.81 291.33 L118.25 291.32 L118.69 291.32 L119.13 291.34 L119.57 291.36 L120.01 291.39 L120.45 291.43 L120.89 291.48 L121.33 291.54 L121.77 291.61 L122.21 291.69 L122.65 291.78 L123.09 291.88 L123.53 291.99 L123.97 292.11 L124.41 292.24 L124.85 292.37 L125.30 292.52 L125.74 292.68 L126.18 292.84 L126.62 293.02 L127.06 293.20 L127.50 293.40 L127.94 293.60 L128.38 293.81 L128.82 294.03 L129.26 294.26 L129.70 294.49 L130.14 294.73 L130.58 294.97 L131.02 295.22 L131.46 295.48 L131.90 295.73 L132.34 295.99 L132.78 296.26 L133.22 296.52 L133.66 296.78 L134.10 297.04 L134.54 297.31 L134.98 297.57 L135.42 297.83 L135.86 298.08 L136.30 298.33 L136.74 298.59 L137.19 298.86 L137.63 299.13 L138.07 299.41 L138.51 299.69 L138.95 299.98 L139.39 300.27 L139.83 300.57 L140.27 300.87 L140.71 301.17 L141.15 301.47 L141.59 301.78 L142.03 302.09 L142.47 302.40 L142.91 302.71 L143.35 303.03 L143.79 303.34 L144.23 303.65 L144.67 303.97 L145.11 304.28 L145.55 304.59 L145.99 304.90 L146.43 305.20 L146.87 305.50 L147.31 305.81 L147.75 306.10 L148.19 306.39 L148.63 306.68 L149.07 306.97 L149.52 307.25 L149.96 307.52 L150.40 307.79 L150.84 308.05 L151.28 308.31 L151.72 308.56 L152.16 308.81 L152.60 309.05 L153.04 309.29 L153.48 309.53 L153.92 309.76 L154.36 310.00 L154.80 310.22 L155.24 310.45 L155.68 310.68 L156.12 310.90 L156.56 311.12 L157.00 311.34 L157.44 311.56 L157.88 311.78 L158.32 312.00 L158.76 312.21 L159.20 312.42 L159.64 312.62 L160.08 312.82 L160.52 313.02 L160.96 313.21 L161.41 313.39 L161.85 313.57 L162.29 313.75 L162.73 313.91 L163.17 314.07 L163.61 314.22 L164.05 314.37 L164.49 314.51 L164.93 314.64 L165.37 314.76 L165.81 314.88 L166.25 314.99 L166.69 315.09 L167.13 315.19 L167.57 315.29 L168.01 315.38 L168.45 315.46 L168.89 315.54 L169.33 315.62 L169.77 315.69 L170.21 315.75 L170.65 315.82 L171.09 315.88 L171.53 315.93 L171.97 315.99 L172.41 316.04 L172.85 316.09 L173.30 316.14 L173.74 316.18 L174.18 316.22 L174.62 316.26 L175.06 316.30 L175.50 316.34 L175.94 316.38 L176.38 316.42 L176.82 316.46 L177.26 316.49 L177.70 316.53 L178.14 316.57 L178.58 316.60 L179.02 316.64 L179.46 316.68 L179.90 316.71 L180.34 316.75 L180.78 316.79 L181.22 316.82 L181.66 316.86 L182.10 316.90 L182.54 316.93 L182.98 316.97 L183.42 317.01 L183.86 317.04 L184.30 317.08 L184.74 317.12 L185.19 317.15 L186.55 317.27 L187.91 317.39 L189.27 317.52 L190.63 317.64 L192.00 317.78 L193.36 317.92 L194.72 318.06 L196.08 318.21 L197.45 318.37 L198.81 318.54 L200.17 318.72 L201.53 318.91 L202.89 319.10 L204.26 319.31 L205.62 319.53 L206.98 319.76 L208.34 319.99 L209.71 320.23 L211.07 320.48 L212.43 320.73 L213.79 320.98 L215.15 321.23 L216.52 321.48 L217.88 321.73 L219.24 321.98 L220.60 322.22 L221.97 322.46 L223.33 322.69 L224.69 322.91 L226.05 323.13 L227.41 323.34 L228.78 323.55 L230.14 323.75 L231.50 323.95 L232.86 324.14 L234.23 324.32 L235.59 324.50 L236.95 324.68 L238.31 324.85 L239.67 325.02 L241.04 325.18 L242.40 325.34 L243.76 325.50 L245.12 325.65 L246.49 325.80 L247.85 325.95 L249.21 326.10 L250.57 326.24 L251.94 326.38 L253.30 326.52 L254.66 326.66 L256.02 326.80 L257.38 326.93 L258.75 327.07 L260.11 327.20 L261.47 327.34 L262.83 327.47 L264.20 327.60 L265.56 327.74 L266.92 327.87 L268.28 328.01 L269.64 328.14 L271.01 328.28 L272.37 328.42 L273.73 328.56 L275.09 328.70 L276.46 328.84 L277.82 328.98 L279.18 329.12 L280.54 329.26 L281.90 329.41 L283.27 329.55 L284.63 329.70 L285.99 329.84 L287.35 329.99 L288.72 330.13 L290.08 330.28 L291.44 330.43 L292.80 330.58 L294.16 330.72 L295.53 330.87 L296.89 331.02 L298.25 331.17 L299.61 331.32 L300.98 331.47 L302.34 331.62 L303.70 331.77 L305.06 331.92 L306.42 332.07 L307.79 332.22 L309.15 332.37 L310.51 332.52 L311.87 332.67 L313.24 332.82 L314.60 332.97 L315.96 333.12 L317.32 333.27 L318.69 333.42 L320.05 333.57 L321.41 333.72 L322.77 333.87 L324.13 334.01 L325.50 334.16 L326.86 334.31 L328.22 334.46 L329.58 334.60 L330.95 334.75 L332.31 334.90 L333.67 335.04 L335.03 335.18 L336.39 335.33 L337.76 335.47 L339.12 335.61 L340.48 335.75 L341.84 335.90 L343.21 336.04 L344.57 336.17 L345.93 336.31 L347.29 336.45 L348.65 336.59 L350.02 336.72 L351.38 336.86 L352.74 336.99 L354.10 337.12 L355.47 337.25 L356.83 337.38 L358.19 337.51 L359.55 337.64 L360.91 337.77 L362.28 337.89 L363.64 338.01 L365.00 338.14 L366.36 338.26 L367.73 338.38 L369.09 338.49 L370.45 338.61 L371.81 338.73 L373.17 338.84 L374.54 338.95" stroke="#ffa500"/>
<path d="M93.15 350.64 L93.59 349.84 L94.03 349.01 L94.47 348.15 L94.91 347.27 L95.35 346.37 L95.79 345.45 L96.23 344.51 L96.67 343.57 L97.11 342.61 L97.55 341.66 L97.99 340.70 L98.43 339.75 L98.87 338.80 L99.31 337.86 L99.75 336.93 L100.19 336.02 L100.63 335.13 L101.07 334.26 L101.52 333.41 L101.96 332.59 L102.40 331.79 L102.84 331.03 L103.28 330.29 L103.72 329.58 L104.16 328.90 L104.60 328.25 L105.04 327.64 L105.48 327.06 L105.92 326.51 L106.36 325.99 L106.80 325.50 L107.24 325.04 L107.68 324.61 L108.12 324.20 L108.56 323.82 L109.00 323.47 L109.44 323.14 L109.88 322.83 L110.32 322.55 L110.76 322.28 L111.20 322.04 L111.64 321.82 L112.08 321.61 L112.52 321.42 L112.96 321.25 L113.41 321.09 L113.85 320.95 L114.29 320.83 L114.73 320.72 L115.17 320.62 L115.61 320.54 L116.05 320.47 L116.49 320.41 L116.93 320.37 L117.37 320.34 L117.81 320.32 L118.25 320.31 L118.69 320.31 L119.13 320.32 L119.57 320.34 L120.01 320.37 L120.45 320.41 L120.89 320.46 L121.33 320.51 L121.77 320.58 L122.21 320.65 L122.65 320.72 L123.09 320.81 L123.53 320.90 L123.97 320.99 L124.41 321.09 L124.85 321.19 L125.30 321.30 L125.74 321.41 L126.18 321.52 L126.62 321.64 L127.06 321.76 L127.50 321.88 L127.94 322.00 L128.38 322.13 L128.82 322.25 L129.26 322.37 L129.70 322.50 L130.14 322.62 L130.58 322.74 L131.02 322.87 L131.46 322.99 L131.90 323.12 L132.34 323.24 L132.78 323.37 L133.22 323.50 L133.66 323.64 L134.10 323.77 L134.54 323.91 L134.98 324.05 L135.42 324.20 L135.86 324.35 L136.30 324.50 L136.74 324.66 L137.19 324.83 L137.63 324.99 L138.07 325.17 L138.51 325.35 L138.95 325.53 L139.39 325.72 L139.83 325.92 L140.27 326.12 L140.71 326.32 L141.15 326.53 L141.59 326.75 L142.03 326.96 L142.47 327.18 L142.91 327.40 L143.35 327.61 L143.79 327.83 L144.23 328.05 L144.67 328.27 L145.11 328.49 L145.55 328.70 L145.99 328.91 L146.43 329.12 L146.87 329.32 L147.31 329.52 L147.75 329.72 L148.19 329.90 L148.63 330.09 L149.07 330.26 L149.52 330.43 L149.96 330.59 L150.40 330.74 L150.84 330.88 L151.28 331.02 L151.72 331.15 L152.16 331.28 L152.60 331.40 L153.04 331.52 L153.48 331.63 L153.92 331.75 L154.36 331.86 L154.80 331.96 L155.24 332.07 L155.68 332.18 L156.12 332.29 L156.56 332.40 L157.00 332.52 L157.44 332.63 L157.88 332.74 L158.32 332.86 L158.76 332.97 L159.20 333.09 L159.64 333.20 L160.08 333.31 L160.52 333.42 L160.96 333.52 L161.41 333.63 L161.85 333.72 L162.29 333.82 L162.73 333.90 L163.17 333.98 L163.61 334.06 L164.05 334.13 L164.49 334.19 L164.93 334.25 L165.37 334.31 L165.81 334.36 L166.25 334.40 L166.69 334.44 L167.13 334.47 L167.57 334.50 L168.01 334.53 L168.45 334.55 L168.89 334.57 L169.33 334.59 L169.77 334.60 L170.21 334.61 L170.65 334.62 L171.09 334.63 L171.53 334.63 L171.97 334.63 L172.41 334.63 L172.85 334.63 L173.30 334.63 L173.74 334.62 L174.18 334.62 L174.62 334.61 L175.06 334.61 L175.50 334.60 L175.94 334.59 L176.38 334.58 L176.82 334.58 L177.26 334.57 L177.70 334.57 L178.14 334.56 L178.58 334.56 L179.02 334.55 L179.46 334.55 L179.90 334.55 L180.34 334.54 L180.78 334.54 L181.22 334.54 L181.66 334.54 L182.10 334.54 L182.54 334.54 L182.98 334.54 L183.42 334.54 L183.86 334.54 L184.30 334.54 L184.74 334.54 L185.19 334.54 L186.55 334.55 L187.91 334.56 L189.27 334.57 L190.63 334.59 L192.00 334.61 L193.36 334.63 L194.72 334.66 L196.08 334.69 L197.45 334.72 L198.81 334.76 L200.17 334.80 L201.53 334.84 L202.89 334.89 L204.26 334.94 L205.62 334.99 L206.98 335.04 L208.34 335.10 L209.71 335.15 L211.07 335.21 L212.43 335.28 L213.79 335.34 L215.15 335.41 L216.52 335.48 L217.88 335.55 L219.24 335.62 L220.60 335.70 L221.97 335.77 L223.33 335.85 L224.69 335.93 L226.05 336.01 L227.41 336.09 L228.78 336.18 L230.14 336.26 L231.50 336.35 L232.86 336.44 L234.23 336.53 L235.59 336.62 L236.95 336.71 L238.31 336.80 L239.67 336.90 L241.04 336.99 L242.40 337.08 L243.76 337.18 L245.12 337.27 L246.49 337.37 L247.85 337.47 L249.21 337.56 L250.57 337.66 L251.94 337.76 L253.30 337.85 L254.66 337.95 L256.02 338.05 L257.38 338.15 L258.75 338.24 L260.11 338.34 L261.47 338.44 L262.83 338.53 L264.20 338.63 L265.56 338.72 L266.92 338.82 L268.28 338.91 L269.64 339.00 L271.01 339.09 L272.37 339.18 L273.73 339.28 L275.09 339.37 L276.46 339.45 L277.82 339.54 L279.18 339.63 L280.54 339.72 L281.90 339.81 L283.27 339.89 L284.63 339.98 L285.99 340.07 L287.35 340.15 L288.72 340.24 L290.08 340.32 L291.44 340.41 L292.80 340.49 L294.16 340.58 L295.53 340.66 L296.89 340.74 L298.25 340.83 L299.61 340.91 L300.98 341.00 L302.34 341.08 L303.70 341.17 L305.06 341.25 L306.42 341.34 L307.79 341.42 L309.15 341.51 L310.51 341.59 L311.87 341.68 L313.24 341.76 L314.60 341.85 L315.96 341.94 L317.32 342.03 L318.69 342.11 L320.05 342.20 L321.41 342.29 L322.77 342.38 L324.13 342.47 L325.50 342.56 L326.86 342.65 L328.22 342.75 L329.58 342.84 L330.95 342.93 L332.31 343.03 L333.67 343.13 L335.03 343.22 L336.39 343.32 L337.76 343.42 L339.12 343.52 L340.48 343.62 L341.84 343.72 L343.21 343.82 L344.57 343.93 L345.93 344.03 L347.29 344.14 L348.65 344.25 L350.02 344.36 L351.38 344.47 L352.74 344.58 L354.10 344.69 L355.47 344.81 L356.83 344.93 L358.19 345.04 L359.55 345.16 L360.91 345.28 L362.28 345.41 L363.64 345.53 L365.00 345.66 L366.36 345.79 L367.73 345.92 L369.09 346.05 L370.45 346.18 L371.81 346.32 L373.17 346.45 L374.54 346.59" stroke="#ffa500"/>
</g>
<g stroke="#000" fill="none">
<line x1="64.9" y1="0.5" x2="405.1" y2="0.5" stroke="#7f7f7f" stroke-width="1.6"/>
<line x1="65.5" y1="0" x2="65.5" y2="426.1" stroke-width="1.25"/>
<line x1="404.5" y1="0" x2="404.5" y2="426.1" stroke-width="1.25"/>
<line x1="65.5" y1="213.1" x2="404.5" y2="213.1" stroke-width="1.15"/>
<line x1="65.5" y1="425.5" x2="404.5" y2="425.5" stroke-width="1.25"/>
<path d="M65.50 195.41L71.10 195.41 M404.50 195.41L398.90 195.41 M65.50 177.72L76.80 177.72 M404.50 177.72L393.20 177.72 M65.50 160.03L71.10 160.03 M404.50 160.03L398.90 160.03 M65.50 142.33L76.80 142.33 M404.50 142.33L393.20 142.33 M65.50 124.64L71.10 124.64 M404.50 124.64L398.90 124.64 M65.50 106.95L76.80 106.95 M404.50 106.95L393.20 106.95 M65.50 89.26L71.10 89.26 M404.50 89.26L398.90 89.26 M65.50 71.57L76.80 71.57 M404.50 71.57L393.20 71.57 M65.50 53.88L71.10 53.88 M404.50 53.88L398.90 53.88 M65.50 36.18L76.80 36.18 M404.50 36.18L393.20 36.18 M65.50 18.49L71.10 18.49 M404.50 18.49L398.90 18.49 M65.50 407.80L71.10 407.80 M404.50 407.80L398.90 407.80 M65.50 390.10L76.80 390.10 M404.50 390.10L393.20 390.10 M65.50 372.40L71.10 372.40 M404.50 372.40L398.90 372.40 M65.50 354.70L76.80 354.70 M404.50 354.70L393.20 354.70 M65.50 337.00L71.10 337.00 M404.50 337.00L398.90 337.00 M65.50 319.30L76.80 319.30 M404.50 319.30L393.20 319.30 M65.50 301.60L71.10 301.60 M404.50 301.60L398.90 301.60 M65.50 283.90L76.80 283.90 M404.50 283.90L393.20 283.90 M65.50 266.20L71.10 266.20 M404.50 266.20L398.90 266.20 M65.50 248.50L76.80 248.50 M404.50 248.50L393.20 248.50 M65.50 230.80L71.10 230.80 M404.50 230.80L398.90 230.80 M107.88 0.80L107.88 6.40 M107.88 207.50L107.88 218.70 M107.88 425.50L107.88 419.90 M150.25 0.80L150.25 12.10 M150.25 201.80L150.25 224.40 M150.25 425.50L150.25 414.20 M192.62 0.80L192.62 6.40 M192.62 207.50L192.62 218.70 M192.62 425.50L192.62 419.90 M235.00 0.80L235.00 12.10 M235.00 201.80L235.00 224.40 M235.00 425.50L235.00 414.20 M277.38 0.80L277.38 6.40 M277.38 207.50L277.38 218.70 M277.38 425.50L277.38 419.90 M319.75 0.80L319.75 12.10 M319.75 201.80L319.75 224.40 M319.75 425.50L319.75 414.20 M362.12 0.80L362.12 6.40 M362.12 207.50L362.12 218.70 M362.12 425.50L362.12 419.90" stroke-width="1.05" stroke="#111"/>
</g>
<rect x="263.1" y="53.9" width="118.2" height="36.9" fill="#fff" stroke="#222" stroke-width="1.1"/>
<g transform="scale(1.08 1)" stroke-width="2.85">
<line x1="249.91" y1="64.7" x2="271.30" y2="64.7" stroke="#0000ff" stroke-dasharray="2.87 7.0 16.15 7.0"/>
<line x1="249.91" y1="80.5" x2="271.30" y2="80.5" stroke="#ff0000"/>
</g>
<rect x="263.1" y="266.4" width="118.2" height="36.9" fill="#fff" stroke="#222" stroke-width="1.1"/>
<g transform="scale(1.08 1)" stroke-width="2.85">
<line x1="249.91" y1="277.2" x2="271.30" y2="277.2" stroke="#ff00ff" stroke-dasharray="2.87 7.0 16.15 7.0"/>
<line x1="249.91" y1="293.0" x2="271.30" y2="293.0" stroke="#ffa500"/>
</g>
<g id="labels" filter="url(#soft)">
<text transform="translate(308.10 69.80) scale(1.05 1)" font-family="'Liberation Sans', sans-serif" font-size="14.4" text-anchor="start" fill="#000" >B mesons</text>
<text transform="translate(308.10 85.70) scale(1.05 1)" font-family="'Liberation Sans', sans-serif" font-size="14.4" text-anchor="start" fill="#000" >D mesons</text>
<text transform="translate(308.10 282.30) scale(1.05 1)" font-family="'Liberation Sans', sans-serif" font-size="14.4" text-anchor="start" fill="#000" >B mesons</text>
<text transform="translate(308.10 298.20) scale(1.05 1)" font-family="'Liberation Sans', sans-serif" font-size="14.4" text-anchor="start" fill="#000" >D mesons</text>
<text transform="translate(61.20 42.28) scale(1.08 1)" font-family="'Liberation Serif', serif" font-size="18.2" text-anchor="end" fill="#000" >1</text>
<text transform="translate(60.60 77.67) scale(1.08 1)" font-family="'Liberation Serif', serif" font-size="18.2" text-anchor="end" fill="#000" >0.8</text>
<text transform="translate(60.60 113.05) scale(1.08 1)" font-family="'Liberation Serif', serif" font-size="18.2" text-anchor="end" fill="#000" >0.6</text>
<text transform="translate(60.60 148.43) scale(1.08 1)" font-family="'Liberation Serif', serif" font-size="18.2" text-anchor="end" fill="#000" >0.4</text>
<text transform="translate(60.60 183.82) scale(1.08 1)" font-family="'Liberation Serif', serif" font-size="18.2" text-anchor="end" fill="#000" >0.2</text>
<text transform="translate(60.60 219.20) scale(1.08 1)" font-family="'Liberation Serif', serif" font-size="18.2" text-anchor="end" fill="#000" >0</text>
<text transform="translate(61.20 254.60) scale(1.08 1)" font-family="'Liberation Serif', serif" font-size="18.2" text-anchor="end" fill="#000" >1</text>
<text transform="translate(60.60 290.00) scale(1.08 1)" font-family="'Liberation Serif', serif" font-size="18.2" text-anchor="end" fill="#000" >0.8</text>
<text transform="translate(60.60 325.40) scale(1.08 1)" font-family="'Liberation Serif', serif" font-size="18.2" text-anchor="end" fill="#000" >0.6</text>
<text transform="translate(60.60 360.80) scale(1.08 1)" font-family="'Liberation Serif', serif" font-size="18.2" text-anchor="end" fill="#000" >0.4</text>
<text transform="translate(60.60 396.20) scale(1.08 1)" font-family="'Liberation Serif', serif" font-size="18.2" text-anchor="end" fill="#000" >0.2</text>
<text transform="translate(60.60 431.60) scale(1.08 1)" font-family="'Liberation Serif', serif" font-size="18.2" text-anchor="end" fill="#000" >0</text>
<text transform="translate(65.70 444.00) scale(1.1 1)" font-family="'Liberation Serif', serif" font-size="18.2" text-anchor="middle" fill="#000" >0</text>
<text transform="translate(150.45 444.00) scale(1.1 1)" font-family="'Liberation Serif', serif" font-size="18.2" text-anchor="middle" fill="#000" >5</text>
<text transform="translate(235.20 444.00) scale(1.1 1)" font-family="'Liberation Serif', serif" font-size="18.2" text-anchor="middle" fill="#000" >10</text>
<text transform="translate(319.95 444.00) scale(1.1 1)" font-family="'Liberation Serif', serif" font-size="18.2" text-anchor="middle" fill="#000" >15</text>
<text transform="translate(404.70 444.00) scale(1.1 1)" font-family="'Liberation Serif', serif" font-size="18.2" text-anchor="middle" fill="#000" >20</text>
<text transform="translate(94.3 26.60) scale(1.075 1)" font-family="'Liberation Sans', sans-serif" font-size="11.5" fill="#000">s<tspan font-size="7.7" x="6.05" dy="-6.8">1/2</tspan><tspan x="29.12" dy="6.8">200</tspan><tspan x="50.79">GeV</tspan></text>
<rect x="116.0" y="22.20" width="6.1" height="0.9" fill="#000"/>
<rect x="116.0" y="24.35" width="6.1" height="0.9" fill="#000"/>
<text transform="translate(94.3 239.00) scale(1.075 1)" font-family="'Liberation Sans', sans-serif" font-size="11.5" fill="#000">s<tspan font-size="7.7" x="6.05" dy="-6.8">1/2</tspan><tspan x="29.12" dy="6.8">200</tspan><tspan x="50.79">GeV</tspan></text>
<rect x="116.0" y="234.60" width="6.1" height="0.9" fill="#000"/>
<rect x="116.0" y="236.75" width="6.1" height="0.9" fill="#000"/>
<text transform="translate(306.30 26.50) scale(1.08 1)" font-family="'Liberation Sans', sans-serif" font-size="11.3" text-anchor="start" fill="#000" >Central Au+Au</text>
<text transform="translate(306.30 238.90) scale(1.06 1)" font-family="'Liberation Sans', sans-serif" font-size="11.3" text-anchor="start" fill="#000" >Central Cu+Cu</text>
<text transform="translate(232.20 197.00) scale(1.095 1)" font-family="'Liberation Sans', sans-serif" font-size="11.8" text-anchor="start" fill="#000" >Instant wavefunction form</text>
<text transform="translate(232.60 404.30) scale(1.095 1)" font-family="'Liberation Sans', sans-serif" font-size="11.8" text-anchor="start" fill="#000" >Instant wavefunction form</text>
<path transform="translate(0 0)" d="M187.3 55.0V60.3M186.5 55.3L187.3 55.0M187.3 56.5L190.9 56.0M187.3 59.9L191.7 59.4M187.3 60.3C186.0 61.0 186.0 62.5 186.2 63.5C186.5 65.0 187.8 65.3 189.0 65.3L190.8 65.3C192.2 65.3 192.9 65.9 192.9 66.9C192.9 68.2 191.5 68.7 189.6 68.6" fill="none" stroke="#000" stroke-width="1.15" stroke-linecap="round" stroke-linejoin="round"/>
<rect x="197.90" y="60.90" width="7.9" height="1.1" fill="#000"/>
<rect x="197.90" y="63.35" width="7.9" height="1.1" fill="#000"/>
<text transform="translate(210.00 66.20) scale(1.08 1)" font-family="'Liberation Sans', sans-serif" font-size="13.8" fill="#000">3-5</text>
<path transform="translate(3.5 212.3)" d="M187.3 55.0V60.3M186.5 55.3L187.3 55.0M187.3 56.5L190.9 56.0M187.3 59.9L191.7 59.4M187.3 60.3C186.0 61.0 186.0 62.5 186.2 63.5C186.5 65.0 187.8 65.3 189.0 65.3L190.8 65.3C192.2 65.3 192.9 65.9 192.9 66.9C192.9 68.2 191.5 68.7 189.6 68.6" fill="none" stroke="#000" stroke-width="1.15" stroke-linecap="round" stroke-linejoin="round"/>
<rect x="201.60" y="273.20" width="7.9" height="1.1" fill="#000"/>
<rect x="201.60" y="275.65" width="7.9" height="1.1" fill="#000"/>
<text transform="translate(214.00 278.50) scale(1.08 1)" font-family="'Liberation Sans', sans-serif" font-size="13.8" fill="#000">3-5</text>
<text transform="translate(112.9 192.8) scale(1.05 1)" font-family="'Liberation Sans', sans-serif" font-size="14.7" fill="#000">R<tspan font-size="10.2" dy="5.7" dx="-0.2">AA</tspan><tspan dy="-5.7" dx="0.6"> light</tspan></text>
<text transform="translate(119.0 358.3) scale(1.05 1)" font-family="'Liberation Sans', sans-serif" font-size="14.7" fill="#000">R<tspan font-size="10.2" dy="5.7" dx="-0.2">AA</tspan><tspan dy="-5.7" dx="0.6"> light</tspan></text>
<text transform="translate(201.3 462.8) scale(1.08 1)" font-family="'Liberation Sans', sans-serif" font-size="18" fill="#000">p<tspan font-size="12.2" dy="6.4" dx="1.0">T</tspan><tspan dy="-6.4" dx="-0.6"> [GeV]</tspan></text>
<g transform="translate(22.2 146.60) scale(1.08 1) rotate(-90)" font-family="'Liberation Sans', sans-serif" fill="#000"><text x="0" y="0" font-size="16.2">R</text><text x="12.6" y="8.0" font-size="12.7">AA</text><text x="30.8" y="-10.6" font-size="11.8">B,D</text><text x="50.4" y="0" font-size="17.8">(p</text><text x="67.2" y="7.6" font-size="12.9">T</text><text x="75.2" y="0" font-size="17.8">)</text></g>
<g transform="translate(22.2 359.10) scale(1.08 1) rotate(-90)" font-family="'Liberation Sans', sans-serif" fill="#000"><text x="0" y="0" font-size="16.2">R</text><text x="12.6" y="8.0" font-size="12.7">AA</text><text x="30.8" y="-10.6" font-size="11.8">B,D</text><text x="50.4" y="0" font-size="17.8">(p</text><text x="67.2" y="7.6" font-size="12.9">T</text><text x="75.2" y="0" font-size="17.8">)</text></g>
</g>
</svg>
</body></html>
